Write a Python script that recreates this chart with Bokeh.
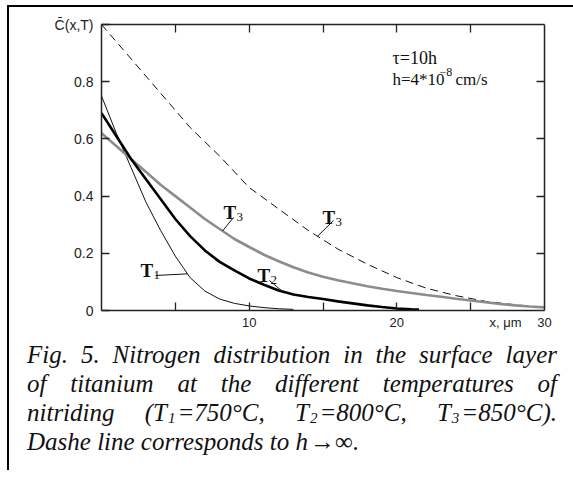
import numpy as np
from bokeh.plotting import figure
from bokeh.layouts import column
from bokeh.models import Label, LinearAxis, FixedTicker, Range1d, Div
from bokeh.embed import file_html
from bokeh.resources import INLINE

# ---------------- data ----------------
T1_X = [0, 1, 2, 3, 4, 5, 6, 7, 8, 9, 10, 11, 12, 13]
T1_C = [0.75, 0.62, 0.50, 0.38, 0.28, 0.19, 0.115, 0.068, 0.040, 0.025, 0.016, 0.010, 0.006, 0.004]

T2_X = [0, 1, 2, 3, 4, 5, 6, 7, 8, 9, 10, 11, 12, 13, 14, 15, 16, 17, 18, 19, 20, 21, 21.5]
T2_C = [0.69, 0.61, 0.53, 0.46, 0.39, 0.32, 0.26, 0.21, 0.17, 0.14, 0.112, 0.09, 0.07, 0.056,
        0.047, 0.04, 0.032, 0.025, 0.018, 0.012, 0.007, 0.004, 0.003]

T3_X = list(range(0, 31))
T3_C = [0.62, 0.575, 0.53, 0.485, 0.44, 0.40, 0.36, 0.32, 0.285, 0.25, 0.222, 0.195, 0.172,
        0.151, 0.133, 0.118, 0.106, 0.095, 0.085, 0.076, 0.068, 0.061, 0.054, 0.048, 0.041,
        0.035, 0.029, 0.023, 0.018, 0.014, 0.011]

# dashed curve (h -> infinity), T3
D_X = [0, 1, 2, 3, 4, 6, 8, 10, 12, 14, 16, 18, 20, 22, 24, 26, 28, 29.7]
D_C = [1.0, 0.94, 0.88, 0.82, 0.76, 0.64, 0.54, 0.43, 0.355, 0.28, 0.215, 0.162, 0.115,
       0.078, 0.052, 0.032, 0.02, 0.012]

X_TICKS = [10, 20, 30]
X_TICK_LABELS = ["10", "20", "30"]
X_MINOR = [5, 10, 15, 20, 25]
X_TITLE = "x, μm"
Y_TICKS = [0, 0.2, 0.4, 0.6, 0.8]
Y_TICK_LABELS = ["0", "0.2", "0.4", "0.6", "0.8"]
Y_TITLE = "C̄(x,T)"
TOP_TICKS = [5, 10, 15, 20, 25]
RIGHT_TICKS = [0.2, 0.4, 0.6, 0.8]

CAPTION_LINES = [
    "Fig. 5. Nitrogen distribution in the surface layer",
    "of titanium at the different temperatures of",
    "nitriding (T<sub>1</sub>=750°C, T<sub>2</sub>=800°C, T<sub>3</sub>=850°C).",
    "Dashe line corresponds to h<span style='font-style:normal'>&#8202;→∞</span>.",
]

# ---------------- geometry ----------------
OX, OY = 9, 7            # canvas origin on the page
W = 556
ML, MT = 101 - OX, 24 - OY
FW, FH = 443, 286
MR = W - ML - FW
MB = 22
H1 = MT + FH + MB
H2 = 128

AX = "#222"

p = figure(width=W, height=H1, x_range=Range1d(0, 30), y_range=Range1d(0, 1),
           x_axis_type=None, y_axis_type=None,
           output_backend="svg", toolbar_location=None,
           min_border_left=ML, min_border_right=MR, min_border_top=MT, min_border_bottom=MB)
p.outline_line_color = None
p.background_fill_color = "white"
p.border_fill_color = "white"


def style_axis(ax, ticks, labels, size="14px"):
    ax.ticker = FixedTicker(ticks=ticks, minor_ticks=[])
    ax.major_label_overrides = {t: l for t, l in zip(ticks, labels)}
    ax.axis_line_color = AX
    ax.axis_line_width = 1.5
    ax.major_tick_in = 8
    ax.major_tick_out = 0
    ax.minor_tick_in = 0
    ax.minor_tick_out = 0
    ax.major_tick_line_color = AX
    ax.major_tick_line_width = 1.3
    ax.minor_tick_line_color = AX
    ax.minor_tick_line_width = 1.3
    ax.major_label_text_font = "Liberation Sans"
    ax.major_label_text_font_size = size
    ax.major_label_text_color = "#222"


# left axis: numbers plus the title at the top corner
left = LinearAxis()
style_axis(left, Y_TICKS + [1.0], Y_TICK_LABELS + [Y_TITLE], "14px")
left.major_label_standoff = 8
p.add_layout(left, "left")

# bottom axis: labelled majors (no marks), inward minor marks, title near the end
XT_POS = (505 - 101) * 30.0 / FW
below = LinearAxis()
style_axis(below, X_TICKS + [XT_POS], X_TICK_LABELS + [X_TITLE], "13px")
below.ticker = FixedTicker(ticks=X_TICKS + [XT_POS], minor_ticks=X_MINOR)
below.major_tick_in = 0
below.minor_tick_in = 8
below.major_label_standoff = 4
p.add_layout(below, "below")

right = LinearAxis()
style_axis(right, RIGHT_TICKS, [""] * len(RIGHT_TICKS))
p.add_layout(right, "right")

above = LinearAxis()
style_axis(above, TOP_TICKS, [""] * len(TOP_TICKS))
p.add_layout(above, "above")

# ---------------- curves ----------------
p.line(D_X, D_C, line_color="#111", line_width=1, line_dash="8 5")
p.line(T1_X, T1_C, line_color="#111", line_width=1)
p.line(T3_X, T3_C, line_color="#8c8c8c", line_width=2.6)
p.line(T2_X, T2_C, line_color="#000", line_width=2.6)


# ---------------- annotations (positions in reference pixels) ----------------
def P(xp, yp):
    return ((xp - 101) * 30.0 / FW, (310 - yp) / float(FH))


def lab(text, xp, yp, size, style="normal", align="left"):
    x, y = P(xp, yp)
    p.add_layout(Label(x=x, y=y, text=text, text_font="Liberation Serif", text_font_size=size,
                       text_font_style=style, text_align=align, text_baseline="alphabetic",
                       text_color="#111"))


curve_labels = [
    ("1", 140, 270, 155, 275, T1_X, T1_C, 187),
    ("2", 257, 275, 269, 280, T2_X, T2_C, 282),
    ("3", 223, 212, 233, 217, T3_X, T3_C, 222),
    ("3", 322, 217, 333, 220, D_X, D_C, 317),
]
for sub, tx, ty, lx, ly, cx, cy, ex in curve_labels:
    lab("T", tx, ty, "19px", style="bold")
    lab(sub, tx + 13, ty + 4, "13px")
    x0, y0 = P(lx, ly)
    xe = (ex - 101) * 30.0 / FW
    ye = float(np.interp(xe, cx, cy))
    p.segment(x0=[x0], y0=[y0], x1=[xe], y1=[ye], line_color="#111", line_width=1)

lab("τ=10h", 392, 57, "18px")
lab("h=4*10", 392, 79, "17px")
lab("−8", 439, 71, "12px")
lab("cm/s", 455, 79, "17px")

# ---------------- caption (justified HTML text) ----------------
just = "text-align:justify;text-align-last:justify;"
rows = []
for i, line in enumerate(CAPTION_LINES):
    st = just if i < len(CAPTION_LINES) - 1 else "text-align:left;"
    rows.append("<div style='%s white-space:normal;height:29px'>%s</div>" % (st, line))
sub_open = "<span style='font-size:15px;line-height:0;vertical-align:-2px;padding:0 2px 0 1px'>"
html = ("<div style=\"font-family:'Liberation Serif';font-style:italic;font-size:25px;"
        "line-height:29px;color:#111;width:543px;padding-left:13px;padding-top:3px\">"
        + "".join(rows).replace("<sub>", sub_open).replace("</sub>", "</span>")
        + "</div>")
cap = Div(text=html, width=W, height=H2)

layout = column(p, cap, spacing=0)
layout.styles = {"margin-left": "%dpx" % (OX - 2), "margin-top": "%dpx" % (OY - 2),
                 "border-left": "2px solid #000", "border-top": "2px solid #000"}

open("out.html", "w").write(file_html(layout, INLINE))
